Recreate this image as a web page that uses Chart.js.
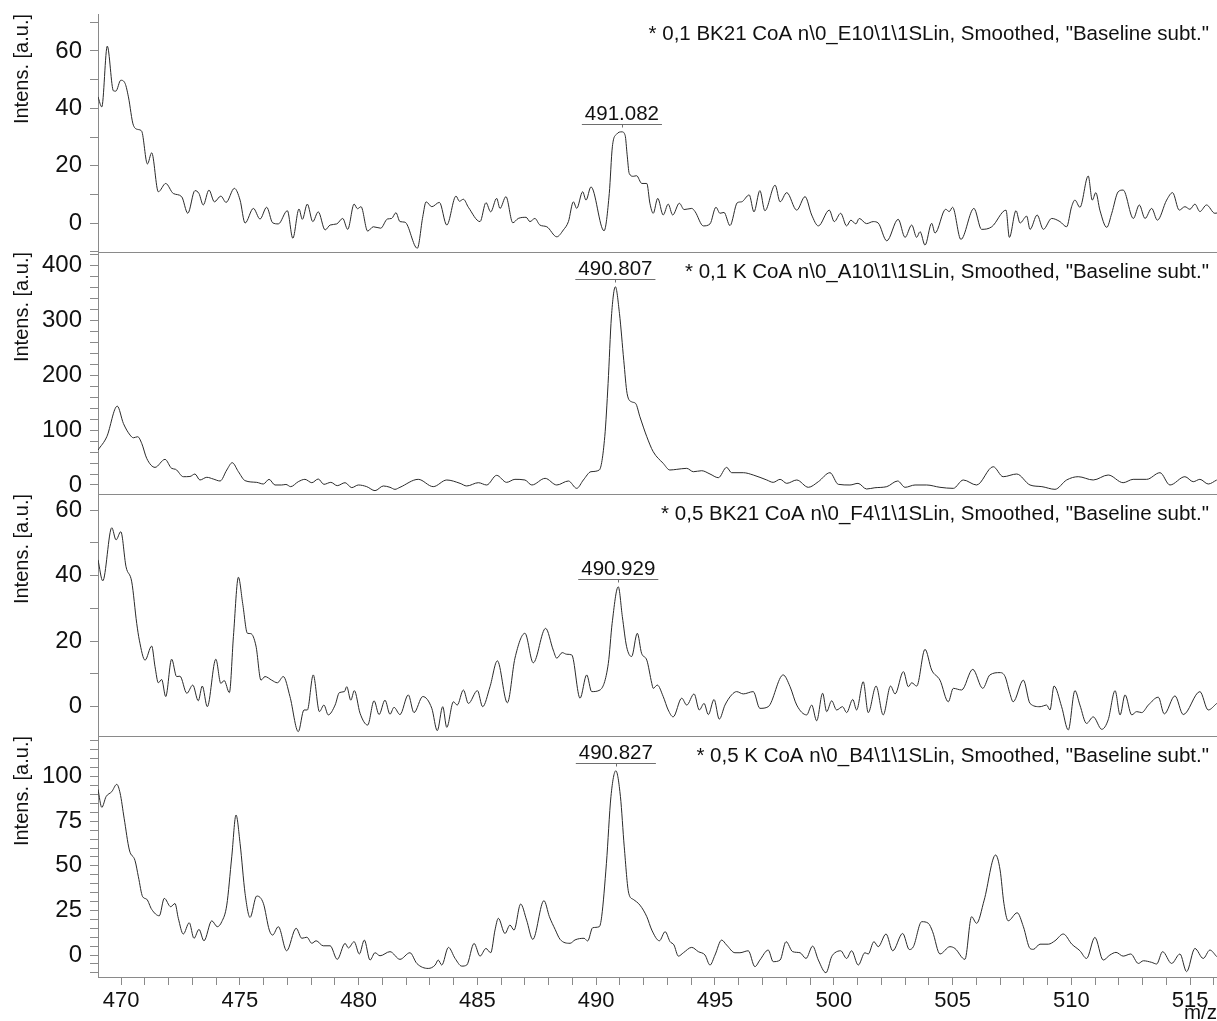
<!DOCTYPE html>
<html lang="de">
<head>
<meta charset="UTF-8">
<title>MALDI Spektren CoA</title>
<script src="https://cdn.jsdelivr.net/npm/chart.js"></script>
<style>
  body { margin: 0; background: #fff; }
  #wrap { position: relative; width: 1217px; height: 1021px; background: #fff; }
  #wrap canvas { position: absolute; left: 0; }
</style>
</head>
<body>
<div id="wrap">
  <canvas id="p1" width="1217" height="253" style="top:0px"></canvas>
  <canvas id="p2" width="1217" height="245" style="top:250px"></canvas>
  <canvas id="p3" width="1217" height="245" style="top:492px"></canvas>
  <canvas id="p4" width="1217" height="287" style="top:734px"></canvas>
</div>
<script>
// spectra as [m/z, intensity] pairs
const spec1 = [[469.03,44],[469.19,40.5],[469.42,61.7],[469.68,46.1],[469.78,46],[469.99,49.8],[470.17,48.7],[470.31,44],[470.52,34.1],[470.73,32.6],[470.87,32],[471.11,20.6],[471.29,24.5],[471.57,10.9],[471.88,13.8],[472.2,10.3],[472.55,9.2],[472.81,3.4],[473.11,11.3],[473.28,10.3],[473.46,6.3],[473.7,11.5],[473.93,7.4],[474.2,9.4],[474.42,7.2],[474.77,12.1],[475.01,8],[475.22,0],[475.57,5.1],[475.85,1.4],[476.13,5.5],[476.38,0.1],[476.62,-0.3],[477.0,4.3],[477.23,-5.3],[477.49,4.9],[477.63,1.3],[477.84,6.6],[478.07,0.5],[478.3,3.9],[478.59,-2.4],[478.8,-0.7],[479.08,-0.3],[479.33,1.6],[479.54,-2.2],[479.81,6.6],[479.95,5],[480.1,5.7],[480.38,-2.8],[480.62,-1.3],[480.93,-1.8],[481.21,1.4],[481.39,1.6],[481.57,3.6],[481.74,0.5],[481.95,0.3],[482.47,-8.8],[482.7,2.2],[482.84,7.4],[483.08,5.7],[483.4,7.2],[483.71,-0.7],[484.1,9.4],[484.24,7.6],[484.41,8.3],[484.62,5.5],[485.11,0.5],[485.36,7.1],[485.56,3.9],[485.81,8.6],[485.95,5.1],[486.2,9.2],[486.49,0.1],[486.72,1.6],[487.05,2.0],[487.21,0.5],[487.42,1.6],[487.63,-0.7],[487.92,-1.3],[488.34,-4.8],[488.62,-2.4],[488.83,0.5],[489.04,7.4],[489.18,5.1],[489.43,10.9],[489.57,8],[489.78,12.6],[490.33,-2.7],[490.55,10.3],[490.68,26.6],[490.86,31],[491.082,31.8],[491.22,30.5],[491.3,24],[491.39,17.3],[491.56,16.3],[491.7,16.5],[491.92,13.8],[492.13,13.8],[492.26,6.9],[492.4,3.4],[492.59,8.6],[492.82,2.8],[493.03,6.6],[493.22,2.8],[493.5,6.9],[493.7,4.7],[494.02,5.1],[494.16,4],[494.51,-1.0],[494.79,-0.3],[495.04,5.5],[495.21,3.4],[495.38,3.7],[495.63,-0.9],[495.94,7.1],[496.12,7.4],[496.44,9.8],[496.64,3.9],[496.89,11.3],[497.1,4.3],[497.53,13.2],[497.74,7.4],[498.02,10.6],[498.44,4.5],[498.79,9.2],[499.07,2.8],[499.35,-1.0],[499.81,4.5],[500.02,0.5],[500.29,3.4],[500.54,-1.0],[500.72,1.0],[500.93,-0.3],[501.07,1.6],[501.38,-0.2],[501.66,0.5],[501.87,0],[502.23,-6.2],[502.71,1.3],[503.0,-5.0],[503.28,-0.7],[503.49,-5],[503.63,-3.0],[503.84,-7.7],[504.12,-0.1],[504.26,-3.5],[504.71,4.8],[504.86,4],[505.0,5.5],[505.35,-5.7],[505.9,5.1],[506.22,-2.2],[506.65,-1.3],[507.25,4.5],[507.39,-5.0],[507.67,4.3],[507.84,0],[508.12,2.4],[508.26,-2.2],[508.56,2.8],[508.82,-2.2],[509.17,1.6],[509.52,0.5],[509.8,-1.3],[510.01,5.7],[510.15,8],[510.36,5.5],[510.71,16.4],[510.88,8],[511.03,10.6],[511.2,4.5],[511.49,-1.5],[511.7,3.4],[511.97,10.9],[512.18,11.5],[512.61,1.6],[512.86,6.3],[513.1,1.6],[513.38,5.1],[513.62,1.0],[514.01,8],[514.26,10.6],[514.54,4.5],[514.78,5.7],[514.99,4.8],[515.2,6.6],[515.41,4],[515.69,6.3],[516.04,3.4],[516.13,3.5]];

const spec2 = [[469.03,63.6],[469.4,87.9],[469.84,143.6],[470.1,112],[470.38,90.9],[470.52,86],[470.7,87.9],[470.87,75.8],[471.08,48.5],[471.43,32.1],[471.85,46.7],[472.13,30.3],[472.3,28.5],[472.62,15.1],[472.9,15.5],[473.11,20],[473.32,9.1],[473.61,14],[473.88,10.9],[474.17,7.3],[474.45,27.3],[474.68,40.6],[474.94,24.2],[475.22,7.9],[475.71,4.8],[475.99,1.8],[476.23,10.3],[476.48,0],[476.76,0],[476.94,1],[477.14,-3.0],[477.46,6],[477.74,10.3],[478.03,4.2],[478.3,10.9],[478.54,1.2],[478.83,4.8],[479.1,-1.2],[479.43,4.2],[479.71,-4.8],[479.99,0],[480.34,-3],[480.69,-10.3],[481.04,-1.8],[481.32,-4.2],[481.53,-7.9],[481.74,-4.2],[482.51,10.3],[483.14,-3.0],[483.71,9.1],[484.27,3],[484.55,-1.8],[485.04,4.2],[485.39,0],[485.81,17.6],[486.23,4.8],[486.58,10.3],[487.0,9.1],[487.29,0],[487.85,12.1],[488.34,0],[488.83,7.3],[489.18,-6.1],[489.46,9.1],[489.78,24.2],[490.13,27.3],[490.36,87.9],[490.5,184.8],[490.64,306],[490.807,361],[490.98,312],[491.16,227],[491.3,166.7],[491.49,151.5],[491.66,148.5],[491.84,124.2],[492.13,87.9],[492.4,60.6],[492.82,39.4],[493.1,27.3],[493.39,28.5],[493.81,30.3],[494.09,24.2],[494.44,26],[494.79,20],[495.14,13.3],[495.49,32.1],[495.7,22.4],[496.19,22.4],[496.61,18.2],[497.18,9.1],[497.45,4.8],[497.74,10.3],[498.02,3],[498.44,9.1],[498.93,-4.2],[499.35,6],[499.84,22.4],[500.19,1.2],[500.68,0],[501.02,3],[501.38,-7.3],[501.73,-5],[502.23,-3],[502.69,7.3],[503.0,-4.2],[503.42,0],[503.91,0],[504.47,-4.2],[505.03,-6.1],[505.45,9.1],[506.01,0],[506.71,33.3],[507.13,15.1],[507.7,20],[508.26,0],[508.76,-3],[509.31,-7.9],[509.8,9.1],[510.29,15.1],[510.92,9.1],[511.55,18.2],[512.18,4.2],[512.6,10.3],[513.17,10.3],[513.73,22.4],[514.15,0],[514.78,15.1],[515.13,6],[515.41,10.3],[515.76,1.8],[516.12,9.1]];

const spec3 = [[469.03,44.8],[469.23,38.4],[469.61,54.6],[469.79,50.9],[469.99,53.4],[470.21,42.7],[470.45,38.1],[470.66,25.4],[470.77,20.3],[471.01,14.2],[471.29,18.5],[471.43,12.2],[471.57,7.3],[471.71,8.3],[471.88,3.1],[472.13,14.5],[472.34,9.2],[472.48,9.3],[472.77,4.1],[473.02,6.6],[473.25,1.8],[473.42,6.3],[473.63,0],[473.99,14.5],[474.2,7.1],[474.34,8],[474.56,4.3],[474.73,21.4],[474.94,39.5],[475.12,31.5],[475.32,22.4],[475.46,22.3],[475.68,18.5],[475.89,8.1],[476.06,9.2],[476.34,8.1],[476.58,7.3],[476.83,9.2],[477.11,3.1],[477.46,-7.6],[477.7,-1.0],[477.84,-1],[478.09,9.7],[478.35,-1.5],[478.54,0.5],[478.72,-2.5],[479.01,0.5],[479.19,4.3],[479.4,4.6],[479.5,6.1],[479.67,2],[479.82,4.9],[480.06,-2],[480.38,-5.6],[480.65,1.8],[480.86,-2.4],[481.11,2.0],[481.32,-2.3],[481.49,-0.2],[481.74,-2.4],[482.09,3.6],[482.33,-1.8],[482.7,3.1],[483.08,-0.5],[483.31,-7.3],[483.54,0],[483.71,-6.3],[483.99,1.5],[484.15,0.5],[484.41,5.1],[484.62,1],[485.0,4.9],[485.22,0],[485.53,6.1],[485.84,14],[486.26,1.2],[486.58,14.8],[487.0,22.4],[487.35,13.4],[487.87,23.9],[488.19,17.3],[488.34,14.8],[488.57,16.5],[488.76,16],[488.97,15.8],[489.32,2.6],[489.6,9.7],[489.81,4.6],[490.16,5.1],[490.51,13.2],[490.67,25.4],[490.929,36.6],[491.1,27.5],[491.28,18.3],[491.49,15.3],[491.73,22.4],[491.91,16.3],[492.13,14.2],[492.34,7.1],[492.4,5.6],[492.57,6.6],[492.82,3.1],[493.03,-1],[493.24,-3.1],[493.6,2.6],[493.81,0.5],[494.12,3.9],[494.34,-1],[494.54,1],[494.72,-2.4],[494.96,2.2],[495.18,-3.8],[495.42,0.5],[495.7,3.6],[495.91,4.6],[496.19,3.9],[496.61,4.6],[496.89,-0.5],[497.24,0],[497.87,9.7],[498.16,6.1],[498.44,0.5],[498.86,-2.5],[499.07,0.5],[499.28,-4.3],[499.53,4.1],[499.7,-1.5],[499.91,1.8],[500.12,-1],[500.37,0],[500.54,-1.8],[500.8,2.2],[500.96,-1],[501.24,7.6],[501.45,-1.8],[501.78,6.3],[502.08,-2.5],[502.39,6.3],[502.58,3.9],[502.93,10.7],[503.14,6.1],[503.28,7.3],[503.49,6.3],[503.84,17.5],[504.12,11.2],[504.47,8.1],[504.82,1.5],[505.03,5.6],[505.38,5.1],[505.85,11.4],[506.27,5.6],[506.57,9.7],[507.0,10.4],[507.21,9.2],[507.41,4.1],[507.55,1.5],[507.98,8.1],[508.26,1],[508.68,0],[508.96,0.5],[509.1,-1],[509.27,6.3],[509.59,0],[509.87,-7.1],[510.15,4.9],[510.36,0.5],[510.64,-5.1],[510.92,-3.1],[511.28,-6.9],[511.55,-4],[511.84,4.9],[512.05,-2.5],[512.26,3.6],[512.54,-2.5],[512.75,-1.5],[512.96,-1.8],[513.24,0.5],[513.66,2.9],[513.91,-2.2],[514.36,3.3],[514.71,-2.4],[515.41,4.6],[515.76,-1],[516.12,1]];

const spec4 = [[469.03,92.9],[469.19,82.8],[469.37,88.8],[469.61,91.6],[469.82,95.7],[469.96,90.8],[470.13,76.7],[470.35,58.9],[470.59,52.9],[470.73,43.9],[470.91,32.7],[471.08,31.3],[471.29,25.6],[471.61,22],[471.82,31.8],[472.09,27.1],[472.27,28.9],[472.41,20.6],[472.62,11.8],[472.87,18.1],[473.07,9.4],[473.28,14.4],[473.49,8],[473.82,19.2],[474.05,15.9],[474.24,18.7],[474.45,28],[474.66,55.1],[474.84,78.5],[475.01,62.6],[475.22,34.6],[475.43,21.1],[475.71,33.1],[475.99,29],[476.24,14],[476.38,11.2],[476.62,15.9],[476.97,2.4],[477.37,15],[477.61,9.4],[477.82,10],[478.03,6.6],[478.21,8],[478.51,5.2],[478.8,5.2],[479.1,-2.4],[479.43,6.5],[479.57,4],[479.81,7.5],[480.03,0.6],[480.24,8.4],[480.48,-2.8],[480.69,1.3],[480.9,-0.4],[481.32,1.9],[481.74,-2.4],[482.16,1.3],[482.45,-4.7],[482.93,-7.5],[483.22,-5.6],[483.35,-2.8],[483.5,-5.6],[483.78,4.3],[484.06,-1.9],[484.34,-6.2],[484.55,-5.6],[484.86,6.5],[485.11,-0.6],[485.36,3.7],[485.56,1.3],[485.74,14],[485.88,20.6],[486.16,12.1],[486.37,16.8],[486.54,14],[486.82,28.6],[487.07,19.6],[487.33,8.8],[487.8,30.5],[488.03,21.5],[488.27,14.4],[488.48,8.8],[488.9,6.6],[489.11,8.5],[489.49,9.4],[489.64,7.9],[489.85,15.3],[490.13,15.9],[490.23,21.5],[490.43,51.4],[490.62,88.8],[490.827,103.3],[491.02,88.8],[491.18,60.7],[491.37,34.6],[491.56,31.2],[491.84,28],[492.13,21.5],[492.34,14],[492.66,8],[492.9,13.1],[493.11,7.5],[493.27,5.7],[493.46,-0.6],[493.67,1.3],[494.02,4.3],[494.3,1.9],[494.58,0],[494.79,-5.6],[495.0,0],[495.28,8.4],[495.49,5.6],[495.84,1.3],[496.05,1.3],[496.4,2.4],[496.68,-6.5],[496.89,-2.8],[497.24,2.8],[497.45,-3.7],[497.74,-2.8],[497.99,7.5],[498.27,1.9],[498.58,1.3],[498.83,-1.9],[499.11,5],[499.35,-2.8],[499.67,-9.9],[499.91,-0.9],[500.05,1.3],[500.29,2.4],[500.54,-1.9],[500.75,2.4],[501.03,-5.6],[501.31,1.3],[501.45,0.6],[501.69,7.5],[501.87,4.7],[502.2,11.8],[502.48,2.4],[502.9,12.1],[503.18,3.1],[503.35,4.7],[503.7,18.7],[503.98,17.8],[504.16,13.1],[504.47,0.6],[504.89,4.7],[505.1,3.7],[505.52,-2.4],[505.8,21.5],[506.01,17.8],[506.33,30.8],[506.81,56.1],[507.0,47.7],[507.16,29],[507.34,19.2],[507.72,23.7],[507.98,15.9],[508.26,3.7],[508.4,3.2],[508.68,6.1],[509.03,6.1],[509.31,8],[509.66,11.8],[510.02,6.1],[510.36,2.4],[510.64,-1.9],[510.99,9.9],[511.34,-2.8],[511.62,0],[511.88,1.5],[512.18,-0.6],[512.5,0.6],[512.82,-4.7],[513.03,-3.2],[513.38,-4.1],[513.59,-5],[513.84,1.9],[514.22,-4.7],[514.57,0.6],[514.85,-9.3],[515.2,3.7],[515.55,-1.9],[515.83,2.8],[516.12,-0.9]];

const sampleNames = [
  '* 0,1 BK21 CoA n\\0_E10\\1\\1SLin, Smoothed, "Baseline subt."',
  '* 0,1 K CoA n\\0_A10\\1\\1SLin, Smoothed, "Baseline subt."',
  '* 0,5 BK21 CoA n\\0_F4\\1\\1SLin, Smoothed, "Baseline subt."',
  '* 0,5 K CoA n\\0_B4\\1\\1SLin, Smoothed, "Baseline subt."'
];

// labelled peak positions (m/z)
const peakMz = [491.082, 490.807, 490.929, 490.827];

const mzRange = [469.03, 516.13];

// (max - min) must not come out as a whole number of steps,
// otherwise Chart.js spreads the ticks from min instead of round values
const panels = [
  { id: 'p1', spec: spec1, yMin: -10.1, yMax: 72.9, minor: 10, major: 20, padTop: 14 },
  { id: 'p2', spec: spec2, yMin: -16.4, yMax: 424.3, minor: 20, major: 100, padTop: 2 },
  { id: 'p3', spec: spec3, yMin: -8.94, yMax: 64.9, minor: 10, major: 20, padTop: 2 },
  { id: 'p4', spec: spec4, yMin: -12.3, yMax: 122.8, minor: 5, major: 25, padTop: 2 }
];

const FONT = 'Arial, "Liberation Sans", Helvetica, sans-serif';
Chart.defaults.font.family = FONT;
Chart.defaults.color = '#111';
const axisGray = '#8a8a8a';

// sample name, peak label and m/z unit drawn on top of each panel
const labelPlugin = {
  id: 'spectrumLabels',
  afterDatasetsDraw(chart, args, opts) {
    const { ctx, chartArea, scales: { x, y } } = chart;
    ctx.save();
    ctx.fillStyle = '#111';
    ctx.font = '20.5px ' + FONT;
    ctx.textAlign = 'right';
    ctx.textBaseline = 'middle';
    ctx.fillText(opts.name, chartArea.right - 8, chartArea.top + 20);

    const px = x.getPixelForValue(opts.peak[0]);
    const py = y.getPixelForValue(opts.peak[1]);
    const text = opts.peak[0].toFixed(3);
    const w = ctx.measureText(text).width;
    const lineY = Math.round(py - 8) + 0.5;
    ctx.textAlign = 'center';
    ctx.fillText(text, px, lineY - 10);
    ctx.strokeStyle = '#6e6e6e';
    ctx.lineWidth = 1;
    ctx.beginPath();
    ctx.moveTo(px - w / 2 - 3, lineY);
    ctx.lineTo(px + w / 2 + 3, lineY);
    ctx.moveTo(Math.round(px) + 0.5, lineY);
    ctx.lineTo(Math.round(px) + 0.5, lineY + 3);
    ctx.stroke();

    if (opts.unit) {
      ctx.textAlign = 'right';
      ctx.fillText('m/z', chart.width, chartArea.bottom + 36);
    }
    ctx.restore();
  }
};

panels.forEach((p, i) => {
  const last = i === panels.length - 1;
  const peakY = p.spec.find(d => d[0] === peakMz[i])[1];
  new Chart(document.getElementById(p.id), {
    type: 'line',
    data: {
      datasets: [{
        data: p.spec.map(([x, y]) => ({ x, y })),
        borderColor: '#2a2a2a',
        borderWidth: 1,
        pointRadius: 0,
        cubicInterpolationMode: 'monotone',
        fill: false
      }]
    },
    options: {
      responsive: false,
      animation: false,
      devicePixelRatio: 1,
      layout: { padding: { top: p.padTop, bottom: last ? 0 : 1, left: 0, right: 0 } },
      plugins: {
        legend: { display: false },
        tooltip: { enabled: false },
        spectrumLabels: { name: sampleNames[i], peak: [peakMz[i], peakY], unit: last }
      },
      scales: {
        x: {
          type: 'linear',
          min: mzRange[0],
          max: mzRange[1],
          border: { color: axisGray, width: 1 },
          grid: { display: last, drawOnChartArea: false, tickLength: 8, color: axisGray },
          ticks: {
            display: last,
            stepSize: 1,
            autoSkip: false,
            includeBounds: false,
            maxRotation: 0,
            padding: 3,
            font: { size: 22 },
            color: '#111',
            callback: v => (v % 5 === 0 ? String(v) : '')
          },
          afterFit: s => { s.height = last ? 44 : 0; s.paddingLeft = 0; s.paddingRight = 0; }
        },
        y: {
          min: p.yMin,
          max: p.yMax,
          border: { color: axisGray, width: 1 },
          grid: { drawOnChartArea: false, tickLength: 8, color: axisGray },
          ticks: {
            stepSize: p.minor,
            autoSkip: false,
            includeBounds: false,
            padding: 8,
            font: { size: 24 },
            color: '#111',
            callback: v => (v % p.major === 0 ? String(v) : '')
          },
          title: {
            display: true,
            text: 'Intens. [a.u.]',
            align: 'end',
            color: '#111',
            font: { size: 20 },
            padding: { top: 10, bottom: 0 }
          },
          afterFit: s => { s.width = 98; s.paddingTop = 0; s.paddingBottom = 0; }
        }
      }
    },
    plugins: [labelPlugin]
  });
});
</script>
</body>
</html>
